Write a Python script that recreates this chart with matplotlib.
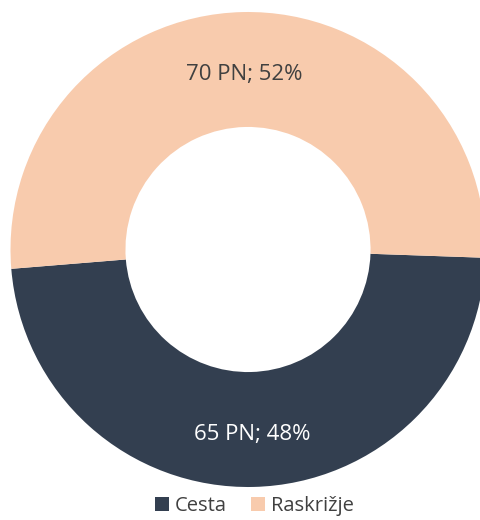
import matplotlib.pyplot as plt
import numpy as np

categories = ["Cesta", "Raskrižje"]
counts = [65, 70]
percents = [48, 52]
colors = ["#333F50", "#F8CBAD"]

plt.rcParams['font.family'] = ['Open Sans', 'DejaVu Sans']

fig = plt.figure(figsize=(4.8, 5.2), dpi=100)
ax = fig.add_axes([10.5 / 480, 33 / 520, 475 / 480, 475 / 520])

wedges, texts = ax.pie(counts, colors=colors, startangle=-2, counterclock=False,
                       radius=1, wedgeprops=dict(width=0.484, edgecolor='none'))
ax.set_xlim(-1, 1)
ax.set_ylim(-1, 1)
ax.set_aspect('equal')

# data labels in the middle of the ring
label_colors = ["white", "#404040"]
for w, n, p, c in zip(wedges, counts, percents, label_colors):
    ang = np.deg2rad((w.theta1 + w.theta2) / 2)
    r = 0.758
    ax.text(r * np.cos(ang), r * np.sin(ang) - 0.02, f"{n} PN; {p}%",
            ha='center', va='center', fontsize=16, color=c)

fig.legend(wedges, categories, loc='lower center', bbox_to_anchor=(0.53, 0.0),
           ncol=2, frameon=False, fontsize=14.5, handlelength=0.7, handleheight=0.7,
           handletextpad=0.3, columnspacing=1.2, labelcolor='#404040',
           borderpad=0.1, borderaxespad=0.1)

fig.savefig("out.png", dpi=100)
